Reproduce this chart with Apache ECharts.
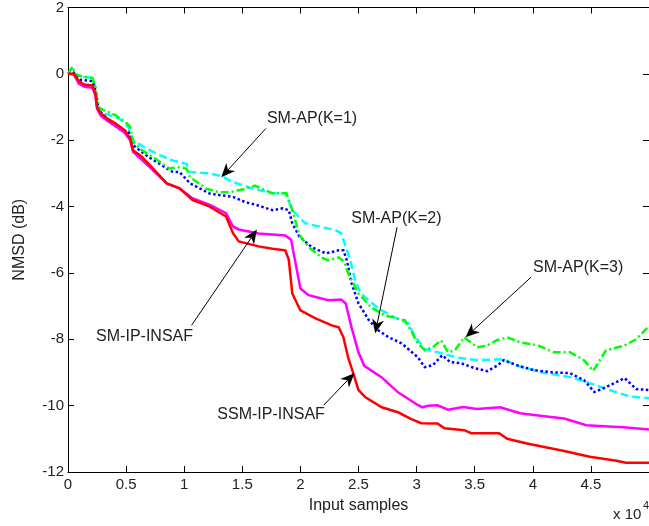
<!DOCTYPE html>
<html><head><meta charset="utf-8">
<script src="https://cdn.jsdelivr.net/npm/echarts@6/dist/echarts.min.js"></script>
<style>html,body{margin:0;padding:0;background:#fff}#c{width:649px;height:526px}</style>
</head><body><div id="c"></div>
<script>
// x values in units of 10^4 input samples, y values in dB
const xTickLabels = ['0','0.5','1','1.5','2','2.5','3','3.5','4','4.5'];
const yTickLabels = ['2','0','-2','-4','-6','-8','-10','-12'];
const seriesNames = ['SM-AP(K=1)','SM-AP(K=2)','SM-AP(K=3)','SM-IP-INSAF','SSM-IP-INSAF'];

const smApK1 = [[0,0],[0.04,0.2],[0.06,0],[0.12,-0.08],[0.21,-0.12],[0.236,-0.4],[0.26,-1.0],[0.32,-1.2],[0.44,-1.35],[0.52,-1.6],[0.56,-2.0],[0.66,-2.22],[0.79,-2.45],[0.9,-2.61],[1.02,-2.71],[1.05,-2.96],[1.22,-3.0],[1.32,-3.08],[1.42,-3.26],[1.59,-3.46],[1.76,-3.6],[1.87,-3.6],[1.93,-4.1],[2.04,-4.5],[2.18,-4.62],[2.3,-4.71],[2.35,-4.8],[2.39,-5.22],[2.43,-5.62],[2.47,-6.22],[2.52,-6.62],[2.67,-7.07],[2.81,-7.34],[2.93,-7.52],[2.98,-7.88],[3.07,-8.3],[3.18,-8.39],[3.35,-8.55],[3.52,-8.63],[3.74,-8.6],[3.91,-8.85],[4.11,-9.02],[4.32,-9.14],[4.49,-9.32],[4.66,-9.53],[4.83,-9.72],[5.0,-9.78]];
const smApK2 = [[0,0],[0.04,0.05],[0.108,-0.18],[0.21,-0.22],[0.236,-0.5],[0.265,-1.1],[0.38,-1.5],[0.46,-1.7],[0.52,-1.75],[0.56,-2.15],[0.69,-2.5],[0.81,-2.76],[0.9,-2.95],[0.96,-2.96],[1.05,-3.3],[1.22,-3.61],[1.42,-3.71],[1.53,-3.87],[1.62,-3.95],[1.76,-4.11],[1.85,-4.05],[1.9,-4.11],[1.93,-4.5],[1.99,-4.9],[2.1,-5.23],[2.22,-5.41],[2.33,-5.32],[2.37,-5.32],[2.4,-5.62],[2.44,-6.31],[2.5,-6.92],[2.59,-7.43],[2.67,-7.73],[2.76,-7.94],[2.87,-8.12],[3.01,-8.54],[3.07,-8.84],[3.14,-8.78],[3.22,-8.48],[3.29,-8.69],[3.38,-8.72],[3.5,-8.87],[3.61,-8.96],[3.7,-8.78],[3.75,-8.63],[3.86,-8.78],[4.01,-8.93],[4.15,-8.99],[4.32,-9.02],[4.44,-9.23],[4.53,-9.59],[4.63,-9.44],[4.79,-9.17],[4.89,-9.5],[5.0,-9.53]];
const smApK3 = [[0,0],[0.04,0.22],[0.06,0],[0.12,-0.08],[0.21,-0.12],[0.236,-0.4],[0.26,-1.0],[0.31,-1.1],[0.41,-1.25],[0.51,-1.5],[0.535,-1.6],[0.56,-2.05],[0.635,-2.3],[0.75,-2.55],[0.87,-2.85],[0.97,-2.81],[1.02,-2.86],[1.05,-3.11],[1.19,-3.46],[1.3,-3.57],[1.39,-3.57],[1.53,-3.46],[1.61,-3.37],[1.76,-3.6],[1.88,-3.6],[1.93,-4.1],[1.99,-4.85],[2.07,-5.22],[2.18,-5.53],[2.24,-5.62],[2.33,-5.53],[2.38,-5.68],[2.41,-6.0],[2.5,-6.62],[2.61,-7.04],[2.73,-7.28],[2.9,-7.43],[2.95,-7.73],[3.01,-8.12],[3.07,-8.33],[3.14,-8.24],[3.21,-8.03],[3.27,-8.39],[3.33,-8.33],[3.41,-7.94],[3.52,-8.24],[3.6,-8.2],[3.69,-8.03],[3.78,-7.94],[3.89,-8.09],[4.04,-8.18],[4.18,-8.39],[4.32,-8.39],[4.44,-8.63],[4.52,-8.95],[4.63,-8.33],[4.78,-8.2],[4.89,-8.0],[5.0,-7.6]];
const smIpInsaf = [[0,0],[0.05,-0.02],[0.094,-0.3],[0.137,-0.38],[0.21,-0.42],[0.236,-0.65],[0.25,-1.05],[0.28,-1.25],[0.34,-1.42],[0.42,-1.6],[0.49,-1.78],[0.535,-2.0],[0.56,-2.35],[0.7,-2.8],[0.85,-3.3],[0.96,-3.45],[1.07,-3.75],[1.22,-3.95],[1.36,-4.2],[1.42,-4.6],[1.47,-4.69],[1.64,-4.81],[1.87,-4.87],[1.92,-5.0],[1.97,-5.92],[2.0,-6.47],[2.07,-6.67],[2.24,-6.82],[2.35,-6.8],[2.39,-6.92],[2.44,-7.64],[2.5,-8.4],[2.55,-8.8],[2.7,-9.15],[2.84,-9.6],[3.01,-9.98],[3.05,-10.05],[3.1,-10.0],[3.18,-9.99],[3.27,-10.12],[3.4,-10.04],[3.52,-10.1],[3.72,-10.05],[3.89,-10.23],[4.1,-10.32],[4.27,-10.39],[4.46,-10.59],[4.61,-10.62],[4.78,-10.65],[5.0,-10.72]];
const ssmIpInsaf = [[0,0],[0.05,0],[0.094,-0.22],[0.137,-0.32],[0.21,-0.35],[0.236,-0.6],[0.25,-1.0],[0.28,-1.18],[0.34,-1.35],[0.41,-1.5],[0.49,-1.7],[0.535,-1.95],[0.56,-2.3],[0.635,-2.5],[0.72,-2.81],[0.85,-3.3],[0.96,-3.45],[1.07,-3.8],[1.22,-4.0],[1.36,-4.3],[1.42,-4.8],[1.47,-5.05],[1.64,-5.2],[1.76,-5.27],[1.87,-5.32],[1.9,-5.6],[1.93,-6.62],[2.0,-7.13],[2.13,-7.37],[2.27,-7.58],[2.33,-7.64],[2.37,-7.94],[2.41,-8.54],[2.46,-9.08],[2.5,-9.53],[2.56,-9.75],[2.7,-10.05],[2.84,-10.2],[2.95,-10.4],[3.04,-10.53],[3.18,-10.54],[3.24,-10.68],[3.41,-10.74],[3.47,-10.83],[3.71,-10.83],[3.78,-11.0],[3.95,-11.14],[4.12,-11.26],[4.26,-11.36],[4.49,-11.54],[4.72,-11.66],[4.8,-11.72],[5.0,-11.72]];

// annotation layout (data coordinates): label anchor (left, middle), arrow tail, arrow tip
const annotations = [
  {text: 'SM-AP(K=1)',   label: [1.712, -1.343], tail: [1.703, -1.645], tip: [1.319, -3.12]},
  {text: 'SM-AP(K=2)',   label: [2.438, -4.355], tail: [2.832, -4.62],  tip: [2.644, -7.82]},
  {text: 'SM-AP(K=3)',   label: [4.002, -5.83],  tail: [3.985, -6.13],  tip: [3.421, -7.94]},
  {text: 'SM-IP-INSAF',  label: [0.242, -7.91],  tail: [1.063, -7.58],  tip: [1.626, -4.69]},
  {text: 'SSM-IP-INSAF', label: [1.285, -10.28], tail: [2.2, -9.99],    tip: [2.464, -9.02]}
];

const FONT = '"Liberation Sans", Arial, sans-serif';
const chart = echarts.init(document.getElementById('c'), null, {renderer: 'canvas'});

const xMin = 0, xMax = 5, xStep = 0.5;
const yMin = -12, yMax = 2, yStep = 2;

function xAx(pos, show) {
  return {
    type: 'value', position: pos, min: xMin, max: xMax, interval: xStep,
    name: show ? 'Input samples' : '', nameLocation: 'middle', nameGap: 26,
    nameTextStyle: {fontFamily: FONT, fontSize: 16, color: '#222'},
    axisLine: {show: true, onZero: false, lineStyle: {color: '#000', width: 1}},
    axisTick: {show: true, inside: true, length: 6, lineStyle: {color: '#000'}},
    axisLabel: {show: show, showMaxLabel: false, margin: 5, fontFamily: FONT, fontSize: 15, color: '#222',
      formatter: function (v) { const i = Math.round((v - xMin) / xStep); return xTickLabels[i] !== undefined ? xTickLabels[i] : ''; }},
    splitLine: {show: false}
  };
}
function yAx(pos, show) {
  return {
    type: 'value', position: pos, min: yMin, max: yMax, interval: yStep,
    name: show ? 'NMSD (dB)' : '', nameLocation: 'middle', nameGap: 40,
    nameTextStyle: {fontFamily: FONT, fontSize: 16, color: '#222'},
    axisLine: {show: true, onZero: false, lineStyle: {color: '#000', width: 1}},
    axisTick: {show: true, inside: true, length: 6, lineStyle: {color: '#000'}},
    axisLabel: {show: show, margin: 4, fontFamily: FONT, fontSize: 15, color: '#222',
      formatter: function (v) { const i = Math.round((yMax - v) / yStep); return yTickLabels[i] !== undefined ? yTickLabels[i] : ''; }},
    splitLine: {show: false}
  };
}

const styles = [
  {color: '#00ffff', type: [8, 4]},
  {color: '#0000ff', type: [2.5, 2.5]},
  {color: '#00ff00', type: [8, 3, 2, 3]},
  {color: '#ff00ff', type: 'solid'},
  {color: '#ff0000', type: 'solid'}
];
const datasets = [smApK1, smApK2, smApK3, smIpInsaf, ssmIpInsaf];

chart.setOption({
  animation: false,
  backgroundColor: '#fff',
  grid: {left: 68, top: 7, right: -4, bottom: 54, containLabel: false},
  xAxis: [xAx('bottom', true), xAx('top', false)],
  yAxis: [yAx('left', true), yAx('right', false)],
  series: datasets.map(function (d, i) {
    return {
      name: seriesNames[i], type: 'line', data: d, showSymbol: false, symbol: 'none',
      lineStyle: {color: styles[i].color, width: 2.5, type: styles[i].type, cap: 'butt', join: 'miter'},
      z: 2 + i, silent: true, clip: true
    };
  })
});

// annotations: text + arrow, positioned via the chart's own coordinate conversion
const g = [];
annotations.forEach(function (a) {
  const lp = chart.convertToPixel({gridIndex: 0}, a.label);
  const t0 = chart.convertToPixel({gridIndex: 0}, a.tail);
  const t1 = chart.convertToPixel({gridIndex: 0}, a.tip);
  const dx = t1[0] - t0[0], dy = t1[1] - t0[1];
  const len = Math.sqrt(dx * dx + dy * dy);
  const ux = dx / len, uy = dy / len, nx = -uy, ny = ux;
  const L = 14, W = 6, N = 4;
  const bx = t1[0] - L * ux, by = t1[1] - L * uy;
  const notch = [t1[0] - (L - N) * ux, t1[1] - (L - N) * uy];
  g.push({type: 'line', shape: {x1: t0[0], y1: t0[1], x2: notch[0], y2: notch[1]}, style: {stroke: '#000', lineWidth: 1}, z: 100});
  g.push({type: 'polygon', shape: {points: [[t1[0], t1[1]], [bx + W * nx, by + W * ny], notch, [bx - W * nx, by - W * ny]]}, style: {fill: '#000'}, z: 101});
  g.push({type: 'text', x: lp[0], y: lp[1], style: {text: a.text, font: '16px ' + FONT, fill: '#222', align: 'left', verticalAlign: 'middle'}, z: 102});
});
g.push({type: 'text', x: 613, y: 515, style: {text: 'x 10', font: '15px ' + FONT, fill: '#222', align: 'left', verticalAlign: 'middle'}, z: 102});
g.push({type: 'text', x: 643, y: 506, style: {text: '4', font: '11px ' + FONT, fill: '#222', align: 'left', verticalAlign: 'middle'}, z: 102});
chart.setOption({graphic: g});
</script></body></html>
